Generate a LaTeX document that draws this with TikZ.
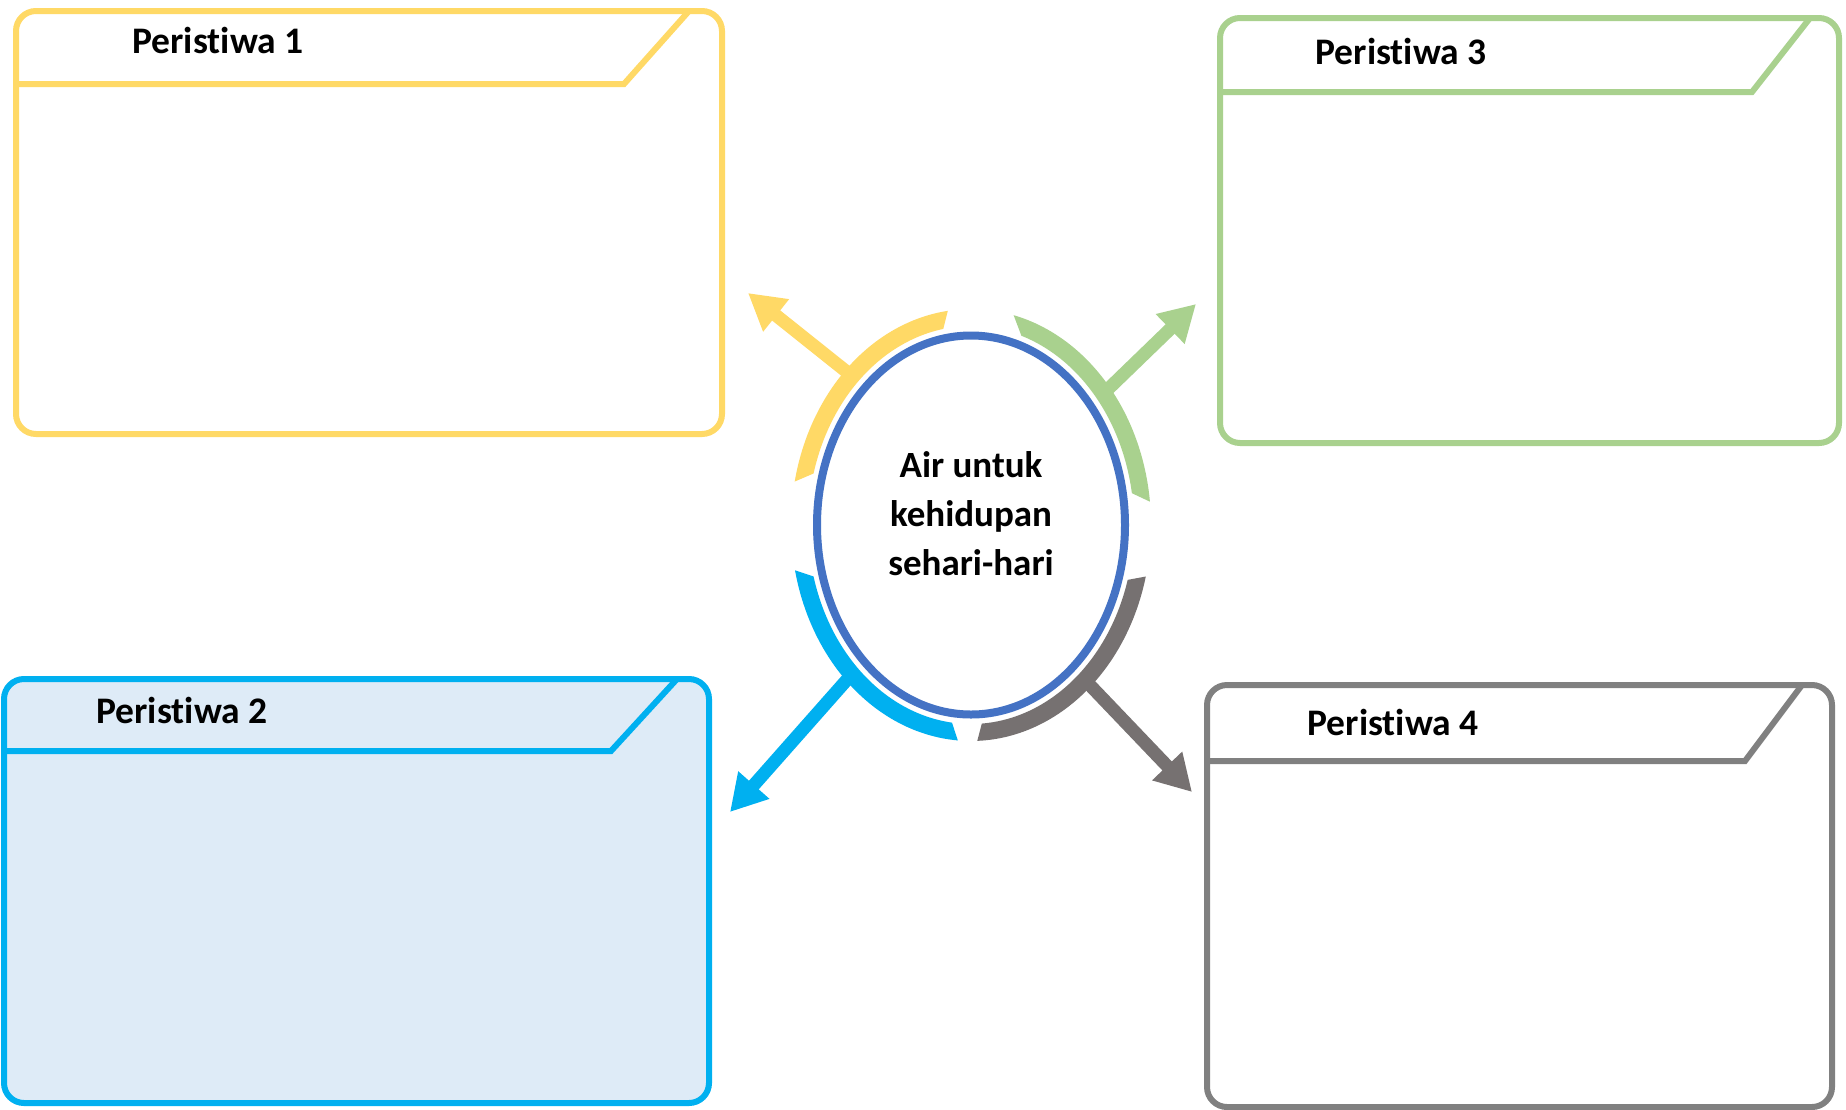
\documentclass[tikz,border=0pt]{standalone}
\usepackage{fontspec}
\setmainfont{Carlito}[Ligatures={NoCommon}]
\usetikzlibrary{arrows.meta,shapes.geometric}
\definecolor{cYel}{HTML}{FFD966}
\definecolor{cGrn}{HTML}{A9D18E}
\definecolor{cBlu}{HTML}{00B0F0}
\definecolor{cBluFill}{HTML}{DEEBF7}
\definecolor{cGry}{HTML}{808080}
\definecolor{cGryArc}{HTML}{767171}
\definecolor{cHub}{HTML}{4472C4}
\begin{document}
\begin{tikzpicture}[x=1pt,y=-1pt,
  panel/.style={draw, line width=6pt, rounded corners=20pt, inner sep=0pt},
  hdr/.style={line width=6pt, line join=miter},
  ttl/.style={font=\fontsize{37.5}{44}\selectfont\bfseries, inner sep=0pt},
  spoke/.style={line width=13pt, -{Triangle[length=36pt,width=39pt]}},
]
\fill[white] (0,0) rectangle (1846,1109);
\useasboundingbox (0,0) rectangle (1846,1109);

% panels
\node[panel, draw=cYel, minimum width=706pt, minimum height=423pt] (p1) at (369,222.5) {};
\draw[hdr, cYel] (16,84) -- (624,84) -- (689,11);
\node[ttl] (t1) at (218,40) {Peristiwa 1};

\node[panel, draw=cBlu, fill=cBluFill, minimum width=705pt, minimum height=424pt] (p2) at (356.5,891) {};
\draw[hdr, cBlu] (4,751) -- (611,751) -- (677,679);
\node[ttl] (t2) at (182,710) {Peristiwa 2};

\node[panel, draw=cGrn, minimum width=619pt, minimum height=425pt] (p3) at (1529.5,230.5) {};
\draw[hdr, cGrn] (1220,92) -- (1752,92) -- (1810,18);
\node[ttl] (t3) at (1401,51) {Peristiwa 3};

\node[panel, draw=cGry, minimum width=625pt, minimum height=422pt] (p4) at (1519.5,896) {};
\draw[hdr, cGry] (1207,761) -- (1745,761) -- (1802,685);
\node[ttl] (t4) at (1393,722) {Peristiwa 4};

% spokes
\coordinate (yS) at (852,376);  \coordinate (yT) at (748,293);
\coordinate (gS) at (1103,394); \coordinate (gT) at (1196,304);
\coordinate (bS) at (852,674);  \coordinate (bT) at (730,812);
\coordinate (kS) at (1085,680); \coordinate (kT) at (1192,792);
\draw[spoke, cYel] (yS) -- (yT);
\draw[spoke, cGrn] (gS) -- (gT);
\draw[spoke, cBlu] (bS) -- (bT);
\draw[spoke, cGryArc] (kS) -- (kT);

% arcs
\fill[cYel] plot[domain=97.4:168.4,samples=50,variable=\t] ({971+180*cos(\t)},{525-216*sin(\t)})
  -- plot[domain=165:99.8,samples=50,variable=\t] ({971+163*cos(\t)},{525-199*sin(\t)}) -- cycle;
\fill[cGrn] plot[domain=6.2:76.3,samples=50,variable=\t] ({971+180*cos(\t)},{525-216*sin(\t)})
  -- plot[domain=72:9.2,samples=50,variable=\t] ({971+163*cos(\t)},{525-199*sin(\t)}) -- cycle;
\fill[cBlu] plot[domain=192.1:265.8,samples=50,variable=\t] ({971+180*cos(\t)},{525-216*sin(\t)})
  -- plot[domain=263.3:195,samples=50,variable=\t] ({971+163*cos(\t)},{525-199*sin(\t)}) -- cycle;
\fill[cGryArc] plot[domain=272:346.2,samples=50,variable=\t] ({971+180*cos(\t)},{525-216*sin(\t)})
  -- plot[domain=344:273.8,samples=50,variable=\t] ({971+163*cos(\t)},{525-199*sin(\t)}) -- cycle;

% hub
\node[draw=cHub, line width=8pt, ellipse, minimum width=308pt, minimum height=379pt, inner sep=0pt, fill=white] (hub) at (971,525) {};
\node[align=center, inner sep=0pt, font=\fontsize{37}{49}\selectfont\bfseries] (hubtxt) at (971,514) {Air untuk\\kehidupan\\sehari-hari};
\end{tikzpicture}
\end{document}
